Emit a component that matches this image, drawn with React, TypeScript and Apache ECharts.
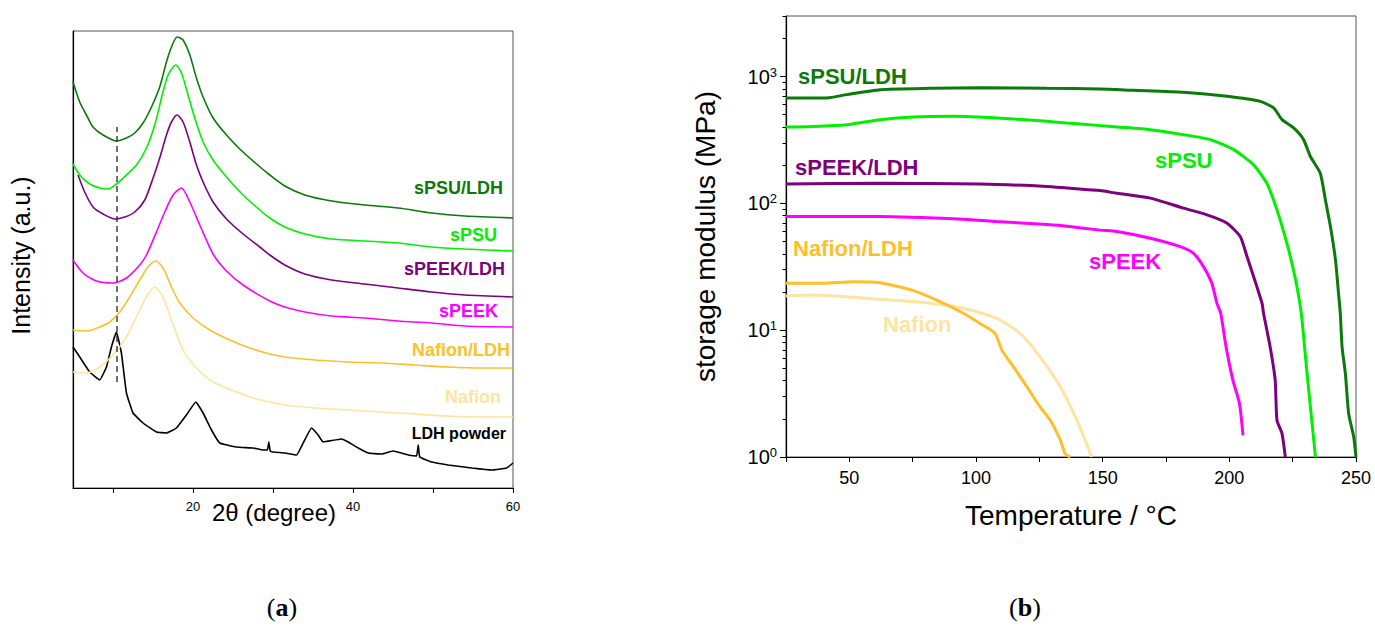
import React, { useEffect, useRef } from 'react';
import * as echarts from 'echarts';

const FONT = '"Liberation Sans", Arial, Helvetica, sans-serif';

// ---------- (a) XRD patterns: [2θ (degree), intensity (a.u., stacked)] ----------
const xrdSPSU_LDH: [number, number][] = [
  [5.0, 406], [5.84, 386], [6.68, 373], [7.5, 361], [8.75, 353], [10.43, 347], [11.68, 350], [12.72, 355],
  [13.76, 365], [14.81, 381], [15.84, 401], [16.68, 426], [17.31, 441], [18.01, 451], [18.76, 448], [19.6, 433],
  [20.43, 410], [21.26, 391], [22.51, 370], [24.19, 353], [25.85, 339], [27.94, 324], [29.6, 313], [31.48, 302],
  [33.98, 293], [37.32, 287], [41.49, 283], [45.65, 280], [49.83, 275], [53.99, 272], [60.0, 270],
];
const xrdSPSU: [number, number][] = [
  [5.0, 324], [5.84, 313], [7.09, 304], [8.34, 300], [9.38, 299], [10.43, 304], [11.68, 313], [12.93, 323],
  [14.18, 340], [15.22, 363], [16.06, 390], [16.88, 413], [17.85, 423], [18.56, 415], [19.38, 393], [20.22, 370],
  [21.26, 346], [22.51, 328], [24.19, 311], [26.26, 293], [28.35, 278], [29.6, 270], [31.48, 261], [33.98, 254],
  [37.32, 249], [41.49, 247], [45.65, 245], [49.83, 241], [53.99, 239], [60.0, 237],
];
const xrdSPEEK_LDH: [number, number][] = [
  [5.63, 313], [6.46, 296], [7.5, 281], [8.75, 274], [10.22, 269], [11.47, 271], [12.72, 276], [13.97, 288],
  [15.01, 310], [15.84, 330], [16.68, 353], [17.31, 366], [18.01, 373], [18.76, 366], [19.6, 346], [20.43, 323],
  [21.26, 306], [22.51, 286], [24.19, 269], [26.26, 254], [28.35, 241], [29.6, 233], [31.48, 223], [33.98, 214],
  [37.32, 208], [41.49, 204], [45.65, 200], [49.83, 196], [53.99, 193], [60.0, 191],
];
const xrdSPEEK: [number, number][] = [
  [5.0, 228], [6.25, 215], [7.93, 207], [10.0, 205], [11.68, 210], [13.34, 223], [14.18, 233], [15.43, 256],
  [16.47, 276], [17.51, 293], [18.56, 300], [19.6, 286], [20.85, 263], [22.51, 234], [24.19, 217], [26.26, 203],
  [29.6, 187], [31.48, 181], [33.98, 176], [37.32, 172], [41.49, 170], [45.65, 167], [49.83, 165], [53.99, 162],
  [60.0, 161],
];
const xrdNafion_LDH: [number, number][] = [
  [5.0, 158], [6.68, 157], [8.34, 161], [9.59, 166], [10.84, 176], [12.09, 191], [13.34, 208], [14.38, 221],
  [15.34, 227], [16.26, 220], [17.31, 201], [18.35, 185], [20.01, 170], [22.1, 158], [24.6, 148], [27.1, 140],
  [29.6, 134], [31.48, 131], [35.23, 128], [39.4, 126], [43.57, 125], [47.74, 123], [51.9, 121], [56.08, 120],
  [60.0, 120],
];
const xrdNafion: [number, number][] = [
  [5.0, 116], [6.68, 115], [8.34, 121], [10.0, 133], [11.68, 151], [12.93, 171], [14.18, 191], [15.22, 201],
  [16.26, 191], [17.31, 168], [18.76, 138], [20.43, 120], [22.51, 106], [25.44, 96], [27.94, 89], [29.6, 86],
  [31.48, 83], [35.23, 80], [39.4, 78], [43.57, 76], [47.74, 74], [51.9, 72], [56.08, 71], [60.0, 71],
];
const xrdLDHPowder: [number, number][] = [
  [5.0, 141], [5.84, 131], [7.09, 116], [8.34, 108], [9.18, 121], [9.8, 141], [10.43, 156], [11.05, 135],
  [11.68, 95], [12.5, 75], [13.76, 65], [15.43, 56], [16.68, 55], [17.93, 60], [19.18, 73], [20.35, 86],
  [21.26, 75], [22.31, 58], [23.35, 45], [25.44, 41], [27.51, 40], [28.77, 38], [29.3, 38], [29.48, 46],
  [29.65, 37], [30.02, 36], [31.48, 35], [32.94, 33], [33.77, 45], [34.82, 60], [35.64, 53], [36.27, 46],
  [38.57, 49], [39.4, 46], [40.65, 40], [41.9, 35], [43.57, 34], [45.03, 37], [46.9, 33], [47.95, 32],
  [48.15, 43], [48.35, 31], [49.83, 26], [51.9, 23], [54.83, 20], [57.33, 18], [59.21, 20], [60.0, 25],
];
const ldhReflection: [number, number][] = [[10.5, 106], [10.5, 361]];
const xrdTicks = [10, 20, 30, 40, 50, 60];
const xrdTickLabels = [20, 40, 60];

// ---------- (b) DMA: [temperature (°C), storage modulus (MPa)] ----------
const dmaSPSU_LDH: [number, number][] = [
  [25, 678], [41.1, 678], [49, 720], [62.1, 788], [81.9, 807], [101.6, 817], [128, 807], [149, 798],
  [162.2, 778], [181.9, 750], [199.1, 698], [212.2, 637], [217.5, 565], [220.8, 457], [225.4, 393], [229.3, 318],
  [232, 234], [235.9, 173], [237.9, 107], [239.9, 65.6], [241.9, 35.8], [243.1, 19.5], [243.8, 13.6], [244.5, 7.4],
  [245.8, 4.56], [247.1, 2.2], [249.1, 1.44], [250, 1.0],
];
const dmaSPSU: [number, number][] = [
  [25, 400], [35.8, 404], [49, 417], [62.1, 457], [75.3, 480], [91.1, 485], [108.2, 471], [128, 443],
  [135.9, 430], [149, 410], [155.6, 400], [168.8, 381], [181.9, 348], [192.5, 318], [201.7, 265], [209.6, 201],
  [214.8, 144], [218.8, 88.8], [222.7, 48.5], [225.9, 26.4], [228.4, 13.6], [230.3, 5.47], [232, 2.48],
  [234, 1.0],
];
const dmaSPEEK_LDH: [number, number][] = [
  [25, 142], [62.1, 144], [101.6, 142], [128, 136], [135.9, 132], [149, 126], [155.6, 120], [168.8, 110],
  [181.9, 91.6], [191.2, 81.2], [199.1, 69.8], [204.3, 54.7], [207, 38], [209.6, 26.4], [212.9, 16.3],
  [213.5, 13.6], [216.1, 7.4], [218.1, 4.04], [218.8, 1.95], [220.8, 1.53], [222.1, 1.0],
];
const dmaSPEEK: [number, number][] = [
  [25, 78.7], [62.1, 78.7], [95, 75], [108, 72], [128, 68], [136, 66], [149, 61.5], [155.6, 60],
  [168.8, 53.1], [180.6, 45.6], [185.9, 40.4], [189.8, 31.7], [193.1, 23.4], [195.1, 16.3], [196.6, 13.6],
  [198.7, 7.4], [201.4, 4.04], [204, 2.64], [205.4, 1.48],
];
const dmaNafion_LDH: [number, number][] = [
  [25, 23.4], [39.7, 23.4], [51.6, 24.1], [62.1, 23.7], [75.3, 20.5], [85.8, 16.8], [95, 13.6], [101.6, 11.3],
  [107.5, 9.43], [110.2, 6.96], [114.8, 5.14], [120.1, 3.57], [125.3, 2.48], [129.3, 1.95], [133.3, 1.36],
  [135.2, 1.06], [137.2, 1.0],
];
const dmaNafion: [number, number][] = [
  [25, 18.6], [35.8, 18.9], [62.1, 17.5], [81.9, 16.3], [95, 14.9], [108.2, 12.4], [117.4, 9.43], [125.3, 6.16],
  [133.3, 3.57], [139.8, 1.95], [145.7, 1.0],
];
const tempLabels = [50, 100, 150, 200, 250];
const modulusMajor = [1, 10, 100, 1000];
const modulusMinor = [
  2, 3, 4, 5, 6, 7, 8, 9, 20, 30, 40, 50, 60, 70, 80, 90,
  200, 300, 400, 500, 600, 700, 800, 900, 2000, 3000,
];

const COL = {
  sPSU_LDH: '#0a7a0a',
  sPSU: '#00f000',
  sPEEK_LDH: '#7d007d',
  sPEEK: '#ff00ff',
  Nafion_LDH: '#ffbf2b',
  Nafion: '#ffe4a0',
  LDH: '#000000',
};

function xrdLine(data: [number, number][], color: string, smooth = 0.25) {
  return {
    type: 'line', xAxisIndex: 0, yAxisIndex: 0, data, showSymbol: false, smooth,
    lineStyle: { color, width: 1.6 }, silent: true,
  };
}
function dmaLine(data: [number, number][], color: string) {
  return {
    type: 'line', xAxisIndex: 1, yAxisIndex: 1, data, showSymbol: false, smooth: 0.2,
    lineStyle: { color, width: 3 }, silent: true,
  };
}
function label(text: string, x: number, y: number, color: string, size: number, align: string) {
  return {
    type: 'text', x, y, silent: true,
    style: { text, fill: color, fontSize: size, fontWeight: 'bold', fontFamily: FONT, align, verticalAlign: 'middle' },
  };
}
function panelTag(letter: string, x: number, y: number) {
  const serif = '"Liberation Serif", "DejaVu Serif", serif';
  return {
    type: 'text', x, y, silent: true,
    style: {
      text: `{p|(}{l|${letter}}{p|)}`, align: 'center', verticalAlign: 'middle',
      rich: {
        p: { fontFamily: serif, fontSize: 26, fill: '#000' },
        l: { fontFamily: serif, fontSize: 26, fontWeight: 'bold', fill: '#000' },
      },
    },
  };
}

export default function App() {
  const ref = useRef<HTMLDivElement>(null);
  useEffect(() => {
    const chart = echarts.init(ref.current as HTMLDivElement, null, { renderer: 'svg' });
    const axisLine = { show: true, onZero: false, lineStyle: { color: '#000', width: 1.2 } };
    chart.setOption({
      animation: false,
      backgroundColor: '#fff',
      grid: [
        { left: 73, top: 31, width: 440, height: 457, show: true, borderColor: '#555', borderWidth: 1, backgroundColor: 'transparent' },
        { left: 786, top: 16, width: 570, height: 441, show: true, borderColor: '#555', borderWidth: 1, backgroundColor: 'transparent' },
      ],
      xAxis: [
        {
          type: 'value', gridIndex: 0, min: 5, max: 60,
          axisLine,
          axisTick: { show: true, customValues: xrdTicks, length: 5, lineStyle: { color: '#000' } },
          axisLabel: { customValues: xrdTickLabels, fontSize: 13, color: '#000', fontFamily: FONT, margin: 12 },
          splitLine: { show: false },
          name: '2θ (degree)', nameLocation: 'middle', nameGap: 12, nameMoveOverlap: false,
          nameTextStyle: { fontSize: 24, color: '#000', fontFamily: FONT, padding: [0, 38, 0, 0] },
        },
        {
          type: 'value', gridIndex: 1, min: 25, max: 250, interval: 25,
          axisLine,
          axisTick: { show: true, length: 5, lineStyle: { color: '#000' } },
          axisLabel: { customValues: tempLabels, fontSize: 18, color: '#000', fontFamily: FONT, margin: 12 },
          splitLine: { show: false },
          name: 'Temperature / °C', nameLocation: 'middle', nameGap: 44,
          nameTextStyle: { fontSize: 28, color: '#000', fontFamily: FONT },
        },
      ],
      yAxis: [
        {
          type: 'value', gridIndex: 0, min: 0, max: 457,
          axisLine, axisTick: { show: false }, axisLabel: { show: false }, splitLine: { show: false },
          name: 'Intensity (a.u.)', nameLocation: 'middle', nameGap: 40,
          nameTextStyle: { fontSize: 25, color: '#000', fontFamily: FONT, padding: [0, 0, 0, 8] },
        },
        {
          type: 'log', logBase: 10, gridIndex: 1, min: 1, max: 3000, position: 'left',
          axisLine,
          axisTick: { show: true, customValues: modulusMajor, length: 6, lineStyle: { color: '#000' } },
          axisLabel: {
            customValues: modulusMajor, margin: 9, color: '#000',
            formatter: (v: number) => `{b|10}{s|${Math.round(Math.log10(v))}}`,
            rich: {
              b: { fontSize: 20, fontFamily: FONT, color: '#000', lineHeight: 22 },
              s: { fontSize: 13, fontFamily: FONT, color: '#000', lineHeight: 13, verticalAlign: 'top' },
            },
          },
          splitLine: { show: false },
          name: 'storage modulus (MPa)', nameLocation: 'middle', nameGap: 67,
          nameTextStyle: { fontSize: 28, color: '#000', fontFamily: FONT },
        },
        {
          type: 'log', logBase: 10, gridIndex: 1, min: 1, max: 3000, position: 'left', offset: 0,
          axisLine: { show: false },
          axisTick: { show: true, customValues: modulusMinor, length: 3.5, lineStyle: { color: '#000' } },
          axisLabel: { show: false }, splitLine: { show: false },
        },
      ],
      series: [
        xrdLine(xrdLDHPowder, COL.LDH, 0.1),
        xrdLine(xrdNafion, COL.Nafion),
        xrdLine(xrdNafion_LDH, COL.Nafion_LDH),
        xrdLine(xrdSPEEK, COL.sPEEK),
        xrdLine(xrdSPEEK_LDH, COL.sPEEK_LDH),
        xrdLine(xrdSPSU, COL.sPSU),
        xrdLine(xrdSPSU_LDH, COL.sPSU_LDH),
        {
          type: 'line', xAxisIndex: 0, yAxisIndex: 0, data: ldhReflection, showSymbol: false, silent: true,
          lineStyle: { color: '#222', width: 1.3, type: [6, 4] },
        },
        dmaLine(dmaNafion, COL.Nafion),
        dmaLine(dmaNafion_LDH, COL.Nafion_LDH),
        dmaLine(dmaSPEEK, COL.sPEEK),
        dmaLine(dmaSPEEK_LDH, COL.sPEEK_LDH),
        dmaLine(dmaSPSU, COL.sPSU),
        dmaLine(dmaSPSU_LDH, COL.sPSU_LDH),
      ],
      graphic: [
        label('sPSU/LDH', 503, 188, COL.sPSU_LDH, 18, 'right'),
        label('sPSU', 497, 235, COL.sPSU, 18, 'right'),
        label('sPEEK/LDH', 505, 269, COL.sPEEK_LDH, 18, 'right'),
        label('sPEEK', 498, 311, COL.sPEEK, 18, 'right'),
        label('Nafion/LDH', 510, 350, COL.Nafion_LDH, 18, 'right'),
        label('Nafion', 501, 397, COL.Nafion, 18, 'right'),
        label('LDH powder', 506, 433, COL.LDH, 16, 'right'),
        label('sPSU/LDH', 798, 76, COL.sPSU_LDH, 22, 'left'),
        label('sPSU', 1155, 160, COL.sPSU, 22, 'left'),
        label('sPEEK/LDH', 795, 167, COL.sPEEK_LDH, 22, 'left'),
        label('sPEEK', 1089, 261, COL.sPEEK, 22, 'left'),
        label('Nafion/LDH', 793, 248, COL.Nafion_LDH, 22, 'left'),
        label('Nafion', 883, 324, COL.Nafion, 22, 'left'),
        panelTag('a', 282, 607),
        panelTag('b', 1025, 607),
      ],
    });
    return () => chart.dispose();
  }, []);
  return (
    <div
      ref={ref}
      style={{ position: 'absolute', left: 0, top: 0, width: 1375, height: 630, background: '#fff' }}
    />
  );
}
